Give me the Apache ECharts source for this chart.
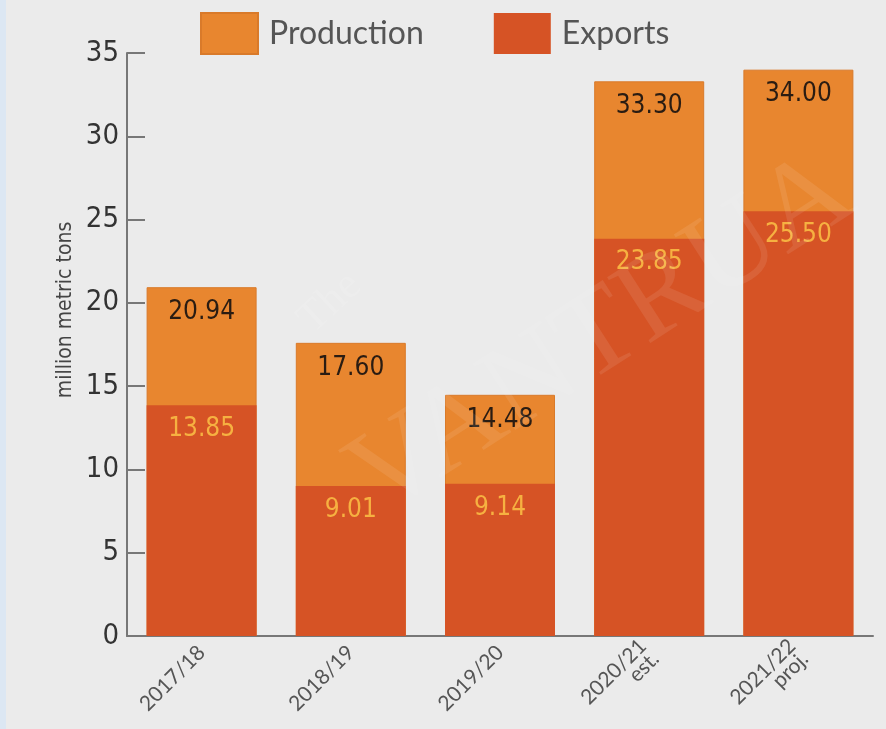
<!DOCTYPE html>
<html>
<head>
<meta charset="utf-8">
<script src="https://cdn.jsdelivr.net/npm/echarts@6/dist/echarts.min.js"></script>
<style>
html,body{margin:0;padding:0;background:#ebebeb;}
#c{width:886px;height:729px;}
</style>
</head>
<body>
<div id="c"></div>
<script>
const categories = ['2017/18', '2018/19', '2019/20', '2020/21\nest.', '2021/22\nproj.'];
const production = [20.94, 17.60, 14.48, 33.30, 34.00];
const exportsData = [13.85, 9.01, 9.14, 23.85, 25.50];
const yTicks = { min: 0, max: 35, interval: 5 };

const chart = echarts.init(document.getElementById('c'), null, { renderer: 'canvas' });
const FONT = 'Lato';
const NARROW = '"DejaVu Sans Condensed", "DejaVu Sans", sans-serif';
chart.setOption({
  backgroundColor: '#ebebeb',
  animation: false,
  textStyle: { fontFamily: FONT },
  graphic: [
    { type: 'rect', left: 0, top: 0, shape: { width: 6, height: 729 }, style: { fill: '#dce7f3' }, z: 0 },
    { type: 'text', x: 66, y: 310, rotation: Math.PI / 2,
      style: { text: 'million metric tons', fontSize: 21, fill: '#444', fontFamily: NARROW,
        align: 'center', verticalAlign: 'middle' }, z: 5 },
    { type: 'text', x: 290, y: 310, rotation: Math.PI / 4.2, silent: true,
      style: { text: 'The', fontSize: 44, fill: 'rgba(255,255,255,0.12)', fontFamily: 'Liberation Serif' }, z: 100 },
    { type: 'text', x: 330, y: 440, rotation: Math.PI / 5.5, silent: true,
      style: { text: 'VANTRUA', fontSize: 120, fill: 'rgba(255,255,255,0.09)', fontFamily: 'Liberation Serif' }, z: 100 }
  ],
  legend: {
    left: 200, top: 12, padding: 0,
    itemWidth: 57, itemHeight: 41, itemGap: 70,
    icon: 'rect',
    textStyle: { fontSize: 32, color: '#555', padding: [0, 0, 0, 6], fontFamily: FONT },
    data: ['Production', 'Exports']
  },
  grid: { left: 127, right: 13, top: 53, bottom: 93 },
  xAxis: {
    type: 'category',
    data: categories,
    axisLine: { lineStyle: { color: '#777', width: 2 } },
    axisTick: { show: false },
    axisLabel: { rotate: 45, fontSize: 21, color: '#555', margin: 13, interval: 0, fontFamily: FONT,
      align: 'right', lineHeight: 18 }
  },
  yAxis: {
    type: 'value',
    min: yTicks.min, max: yTicks.max, interval: yTicks.interval,
    axisLine: { show: true, lineStyle: { color: '#777', width: 2 } },
    axisTick: { show: true, inside: true, length: 18, lineStyle: { color: '#777', width: 2 } },
    splitLine: { show: false },
    axisLabel: { fontSize: 29, color: '#333', margin: 8, fontFamily: NARROW }
  },
  series: [
    {
      name: 'Production', type: 'bar', data: production,
      barWidth: 110, barGap: '-100%',
      itemStyle: { color: '#e8862f', borderColor: '#d97a2a', borderWidth: 1 },
      label: { show: true, position: 'insideTop', distance: 12, fontSize: 26, color: '#2a1c12',
        fontFamily: NARROW, formatter: p => p.value.toFixed(2) }
    },
    {
      name: 'Exports', type: 'bar', data: exportsData,
      barWidth: 110,
      itemStyle: { color: '#d65325' },
      label: { show: true, position: 'insideTop', distance: 11, fontSize: 26, color: '#f6b141',
        fontFamily: NARROW, formatter: p => p.value.toFixed(2) }
    }
  ]
});
</script>
</body>
</html>
